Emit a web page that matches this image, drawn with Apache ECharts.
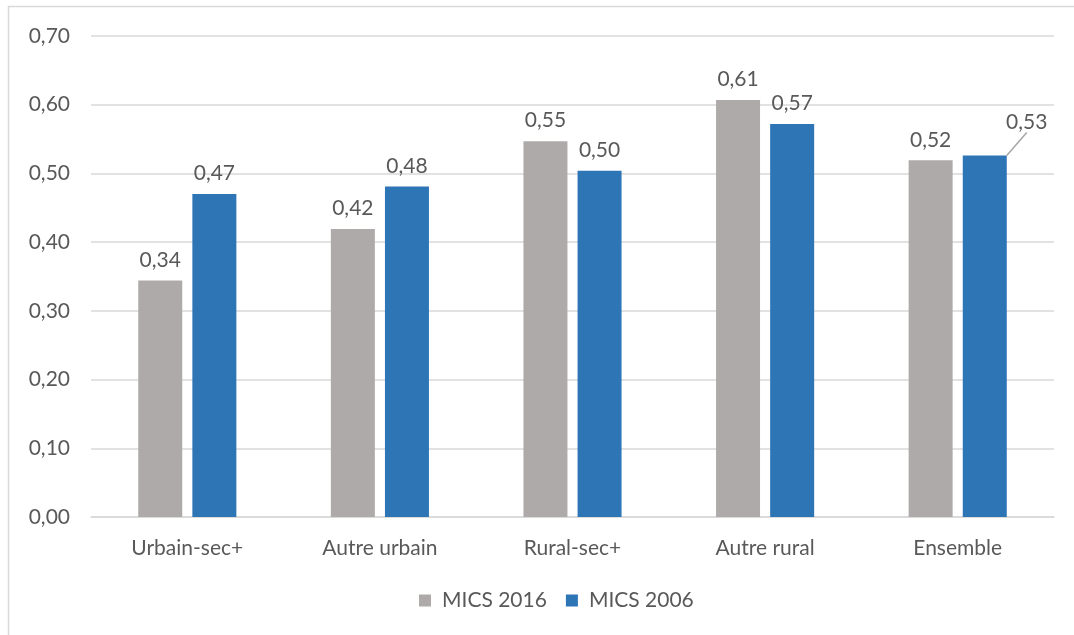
<!DOCTYPE html>
<html>
<head>
<meta charset="utf-8">
<script src="https://cdn.jsdelivr.net/npm/echarts@6/dist/echarts.min.js"></script>
<style>
  html, body { margin: 0; padding: 0; background: #fff; }
  #chart { width: 1074px; height: 635px; }
</style>
</head>
<body>
<div id="chart"></div>
<script>
// Zones and their index values for the two survey rounds
const categories = ['Urbain-sec+', 'Autre urbain', 'Rural-sec+', 'Autre rural', 'Ensemble'];
const mics2016 = [0.344, 0.419, 0.547, 0.607, 0.519];
const mics2006 = [0.470, 0.481, 0.504, 0.572, 0.526];
const seriesNames = ['MICS 2016', 'MICS 2006'];

const FONT = 'Lato';
const FS = 21;
const TEXT = '#595959';
const fmt = v => v.toFixed(2).replace('.', ',');

const chart = echarts.init(document.getElementById('chart'), null, { renderer: 'canvas' });

const labelBase = {
  show: true,
  position: 'top',
  distance: 10,
  color: TEXT,
  fontFamily: FONT,
  fontSize: FS,
  formatter: p => fmt(p.value)
};

// The last 2006 label is pushed up and right, with a leader line back to its bar
const data2006 = mics2006.map((v, i) => i === categories.length - 1
  ? { value: v, labelLine: { show: true, lineStyle: { color: '#A6A6A6', width: 1.5 } } }
  : { value: v, labelLine: { show: false } });

chart.setOption({
  animation: false,
  backgroundColor: '#ffffff',
  textStyle: { fontFamily: FONT },
  graphic: [{
    type: 'polyline',
    shape: { points: [[8.5, 640], [8.5, 6.5], [1080, 6.5]] },
    style: { stroke: '#D9D9D9', lineWidth: 1.5, fill: null },
    silent: true
  }],
  grid: { left: 91, right: 20, top: 36, bottom: 118, containLabel: false },
  legend: {
    data: seriesNames,
    bottom: 19,
    left: 414,
    itemWidth: 12,
    itemHeight: 12,
    itemGap: 19,
    icon: 'rect',
    textStyle: { color: TEXT, fontFamily: FONT, fontSize: FS, padding: [0, 0, 0, 6] }
  },
  xAxis: {
    type: 'category',
    data: categories,
    axisLine: { show: true, lineStyle: { color: '#D9D9D9', width: 1.5 } },
    axisTick: { show: false },
    axisLabel: { color: TEXT, fontFamily: FONT, fontSize: FS, margin: 21 }
  },
  yAxis: {
    type: 'value',
    min: 0,
    max: 0.7,
    interval: 0.1,
    axisLine: { show: false },
    axisTick: { show: false },
    splitLine: { lineStyle: { color: '#D9D9D9', width: 1.5 } },
    axisLabel: { color: TEXT, fontFamily: FONT, fontSize: FS, margin: 21, formatter: v => fmt(v) }
  },
  series: [
    {
      name: seriesNames[0],
      type: 'bar',
      data: mics2016,
      barWidth: 44,
      barGap: '23%',
      itemStyle: { color: '#AEAAAA' },
      label: labelBase
    },
    {
      name: seriesNames[1],
      type: 'bar',
      data: data2006,
      barWidth: 44,
      barGap: '23%',
      itemStyle: { color: '#2E75B6' },
      label: labelBase,
      labelLayout: p => p.dataIndex === categories.length - 1 ? { dx: 42, dy: -13 } : {}
    }
  ]
});
</script>
</body>
</html>
